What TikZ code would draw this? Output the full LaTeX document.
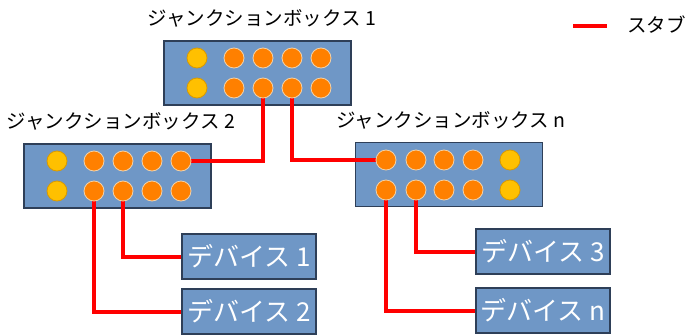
\documentclass[tikz,border=0pt]{standalone}
\usepackage{fontspec}
\setmainfont{Noto Sans CJK JP}
\definecolor{BoxFill}{HTML}{6F97C6}
\definecolor{BoxLine}{HTML}{2E3F58}
\definecolor{Port}{HTML}{FF8000}
\definecolor{PortEdge}{HTML}{F3D2A8}
\definecolor{Spare}{HTML}{FFC000}
\definecolor{SpareEdge}{HTML}{D99A00}
\definecolor{Stub}{HTML}{FF0000}

\tikzset{
  jbox/.style={rectangle, fill=BoxFill, draw=BoxLine, line width=1.5pt, minimum width=187pt, minimum height=64pt, inner sep=0pt},
  dbox/.style={rectangle, fill=BoxFill, draw=BoxLine, line width=1.5pt, minimum width=134pt, minimum height=45pt, inner sep=0pt, text=white, font=\fontsize{26}{26}\selectfont},
  port/.style={circle, fill=Port, draw=PortEdge, line width=0.8pt, minimum size=20pt, inner sep=0pt},
  spare/.style={circle, fill=Spare, draw=SpareEdge, line width=0.8pt, minimum size=20pt, inner sep=0pt},
  title/.style={font=\fontsize{19.5}{19.5}\selectfont, inner sep=0pt},
  stub/.style={draw=Stub, line width=4pt}
}

\begin{document}
\begin{tikzpicture}[x=1pt, y=-1pt]

 \useasboundingbox (0,0) rectangle (691,335);

 %%%%%%%%%% Boxes %%%%%%%%%%
 \node[jbox] (j1) at (257.5,73) {};
 \node[jbox] (j2) at (117.5,176) {};
 \node[jbox] (jn) at (449,174.5) {};

 \node[title] (t1) at (262,18) {ジャンクションボックス 1};
 \node[title] (t2) at (121,121) {ジャンクションボックス 2};
 \node[title] (tn) at (451,120) {ジャンクションボックス n};

 %%%%%%%%%% Devices %%%%%%%%%%
 \node[dbox] (d1) at (249,256.5) {デバイス 1};
 \node[dbox] (d2) at (249,311.5) {デバイス 2};
 \node[dbox] (d3) at (543,251.5) {デバイス 3};
 \node[dbox] (dn) at (543,310.5) {デバイス n};

 %%%%%%%%%% Stubs %%%%%%%%%%
 \coordinate (c1) at (263,88);
 \coordinate (c2) at (292,88);
 \coordinate (c3) at (123,191);
 \coordinate (c4) at (94,191);
 \coordinate (c5) at (416,190);
 \coordinate (c6) at (386,190);
 \coordinate (c7) at (181,161);
 \coordinate (c8) at (386,160);

 \draw [stub] (c1) -- (263,161) -- (c7) ;
 \draw [stub] (c2) -- (292,160) -- (c8) ;
 \draw [stub] (c3) |- (d1.west) ;
 \draw [stub] (c4) |- (d2.west) ;
 \draw [stub] (c5) |- (d3.west) ;
 \draw [stub] (c6) |- (dn.west) ;

 %%%%%%%%%% Ports box 1 %%%%%%%%%%
 \node[spare] (j1a1) at (197,58) {};
 \node[port] (j1a2) at (234,58) {};
 \node[port] (j1a3) at (263,58) {};
 \node[port] (j1a4) at (292,58) {};
 \node[port] (j1a5) at (321,58) {};
 \node[spare] (j1b1) at (197,88) {};
 \node[port] (j1b2) at (234,88) {};
 \node[port] (j1b3) at (263,88) {};
 \node[port] (j1b4) at (292,88) {};
 \node[port] (j1b5) at (321,88) {};

 %%%%%%%%%% Ports box 2 %%%%%%%%%%
 \node[spare] (j2a1) at (57,161) {};
 \node[port] (j2a2) at (94,161) {};
 \node[port] (j2a3) at (123,161) {};
 \node[port] (j2a4) at (152,161) {};
 \node[port] (j2a5) at (181,161) {};
 \node[spare] (j2b1) at (57,191) {};
 \node[port] (j2b2) at (94,191) {};
 \node[port] (j2b3) at (123,191) {};
 \node[port] (j2b4) at (152,191) {};
 \node[port] (j2b5) at (181,191) {};

 %%%%%%%%%% Ports box n %%%%%%%%%%
 \node[port] (jna1) at (386,160) {};
 \node[port] (jna2) at (416,160) {};
 \node[port] (jna3) at (444,160) {};
 \node[port] (jna4) at (473,160) {};
 \node[spare] (jna5) at (510,160) {};
 \node[port] (jnb1) at (386,190) {};
 \node[port] (jnb2) at (416,190) {};
 \node[port] (jnb3) at (444,190) {};
 \node[port] (jnb4) at (473,190) {};
 \node[spare] (jnb5) at (510,190) {};

 %%%%%%%%%% Legend %%%%%%%%%%
 \coordinate (la) at (573,26);
 \coordinate (lb) at (607,26);
 \draw [stub] (la) -- (lb) ;
 \node[title, anchor=west] (lt) at (627,25) {スタブ};

\end{tikzpicture}
\end{document}
